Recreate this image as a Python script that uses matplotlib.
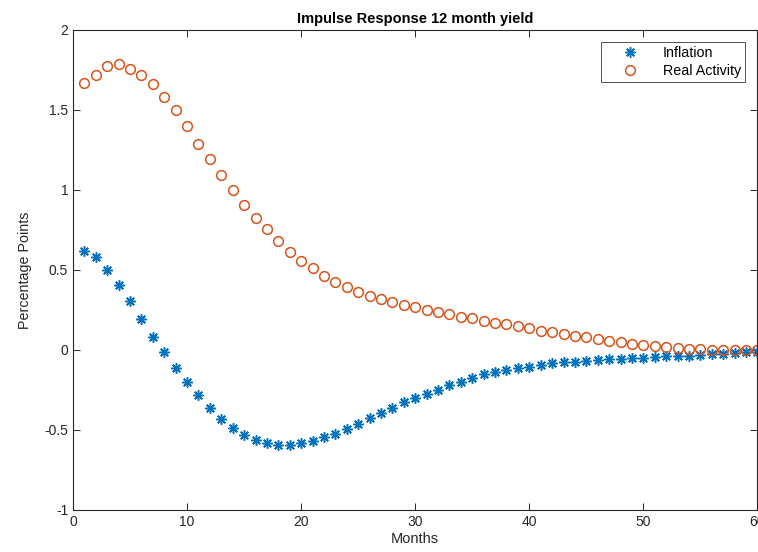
import numpy as np
import matplotlib
matplotlib.use("Agg")
import matplotlib.pyplot as plt

plt.rcParams['font.family'] = ['Liberation Sans', 'DejaVu Sans']

# months 1..60
months = list(range(1, 61))

# impulse response of inflation
inflation = [0.62, 0.58, 0.50, 0.406, 0.304, 0.194, 0.083, -0.015, -0.11, -0.202,
             -0.281, -0.36, -0.431, -0.49, -0.531, -0.562, -0.583, -0.594, -0.594, -0.583,
             -0.567, -0.546, -0.525, -0.494, -0.462, -0.427, -0.394, -0.36, -0.327, -0.30,
             -0.275, -0.248, -0.221, -0.198, -0.175, -0.153, -0.138, -0.125, -0.115, -0.104,
             -0.093, -0.084, -0.077, -0.073, -0.069, -0.065, -0.059, -0.056, -0.052, -0.047,
             -0.043, -0.040, -0.037, -0.035, -0.031, -0.027, -0.023, -0.019, -0.015, -0.012]

# impulse response of real activity
real_activity = [1.667, 1.72, 1.777, 1.786, 1.756, 1.72, 1.663, 1.583, 1.50, 1.40,
                 1.29, 1.196, 1.096, 0.998, 0.909, 0.827, 0.754, 0.681, 0.615, 0.558,
                 0.51, 0.465, 0.427, 0.394, 0.365, 0.335, 0.317, 0.297, 0.280, 0.267,
                 0.25, 0.235, 0.223, 0.208, 0.198, 0.183, 0.171, 0.16, 0.148, 0.135,
                 0.121, 0.112, 0.098, 0.088, 0.079, 0.067, 0.058, 0.048, 0.038, 0.031,
                 0.025, 0.019, 0.015, 0.008, 0.006, 0.002, 0.0, -0.001, -0.002, -0.003]

fig = plt.figure(figsize=(7.58, 5.52), dpi=100)
ax = fig.add_axes([0.0963, 0.0761, 0.9030, 0.8696])

# matlab style asterisk: 8 arms
ax.plot(months, inflation, linestyle='none', marker=(8, 2, 0), markersize=7.5,
        color='#0072BD', markeredgewidth=1.1, label='Inflation')
ax.plot(months, real_activity, linestyle='none', marker='o', markersize=7,
        markerfacecolor='none', markeredgecolor='#D95319', markeredgewidth=1.1,
        label='Real Activity')

ax.set_xlim(0, 60)
ax.set_ylim(-1, 2)
ax.set_xticks([0, 10, 20, 30, 40, 50, 60])
ax.set_yticks([-1, -0.5, 0, 0.5, 1, 1.5, 2])
ax.set_yticklabels(['-1', '-0.5', '0', '0.5', '1', '1.5', '2'])

ax.tick_params(direction='in', top=True, right=True, length=5, width=0.7,
               labelsize=10, colors='#262626')
for s in ax.spines.values():
    s.set_linewidth(0.8)
    s.set_color('#262626')

ax.set_xlabel('Months', fontsize=10.5, color='#262626', labelpad=2)
ax.set_ylabel('Percentage Points', fontsize=10.3, color='#262626', labelpad=9)
ax.set_title('Impulse Response 12 month yield', fontsize=10.5, fontweight='bold', pad=5)

leg = ax.legend(loc='upper right', fontsize=10.3, frameon=True, fancybox=False,
                edgecolor='#262626', bbox_to_anchor=(0.982, 0.975),
                borderaxespad=0, borderpad=0.3, labelspacing=0.25,
                handlelength=3.4, handletextpad=0.6)
leg.get_frame().set_linewidth(0.7)

plt.savefig('out.png', dpi=100)
plt.close()
